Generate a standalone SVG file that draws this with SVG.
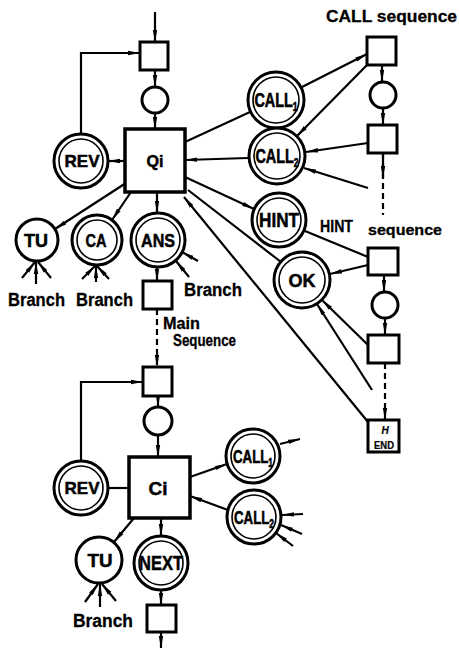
<svg xmlns="http://www.w3.org/2000/svg" width="459" height="648" viewBox="0 0 459 648">
<style>
.bg{fill:#fff}
.sq{fill:#fff;stroke:#000;stroke-width:3}
.big{fill:#fff;stroke:#000;stroke-width:3.5}
.c{fill:#fff;stroke:#000;stroke-width:3}
.ci{fill:none;stroke:#000;stroke-width:1.6}
.ln{fill:none;stroke:#000;stroke-width:2.2}
.a{marker-end:url(#ah)}
.d{stroke-dasharray:6 4}
.lbl{font-family:"Liberation Sans",Arial,sans-serif;font-weight:bold;font-size:17px;text-anchor:middle;fill:#000;stroke:#000;stroke-width:0.5}
.call{font-family:"Liberation Sans",Arial,sans-serif;font-weight:bold;font-size:20px;text-anchor:middle;fill:#000;stroke:#000;stroke-width:0.6}
.txt{font-family:"Liberation Sans",Arial,sans-serif;font-weight:bold;font-size:18px;fill:#000;stroke:#000;stroke-width:0.3}
</style>
<defs>
<marker id="ah" viewBox="0 0 12 6" refX="12" refY="3" markerWidth="12" markerHeight="6" markerUnits="userSpaceOnUse" orient="auto">
<path d="M0,0.8 L12,3 L0,5.2 Z" fill="#000"/>
</marker>
</defs>
<rect class="bg" x="0" y="0" width="459" height="648"/>

<g id="connectors">
<line class="ln a" x1="155" y1="12" x2="155" y2="42"/>
<line class="ln a" x1="155" y1="70" x2="155" y2="87"/>
<line class="ln a" x1="155" y1="113" x2="155" y2="129"/>
<path class="ln a" d="M81,134 V53 H140"/>
<line class="ln a" x1="125" y1="161" x2="108" y2="161"/>
<line class="ln a" x1="126" y1="183" x2="55" y2="229"/>
<line class="ln a" x1="131" y1="192" x2="112" y2="220"/>
<line class="ln a" x1="157" y1="192" x2="157" y2="213"/>
<line class="ln a" x1="157" y1="267" x2="157" y2="281"/>
<line class="ln a" x1="198" y1="261" x2="182" y2="252"/>
<line class="ln a" x1="189" y1="277" x2="176" y2="261"/>
<line class="ln a" x1="22" y1="278" x2="35" y2="262"/>
<line class="ln a" x1="36" y1="284" x2="36" y2="262"/>
<line class="ln a" x1="51" y1="278" x2="38" y2="262"/>
<line class="ln a" x1="82" y1="279" x2="95" y2="266"/>
<line class="ln a" x1="96" y1="282" x2="96" y2="266"/>
<line class="ln a" x1="109" y1="279" x2="97" y2="266"/>
<line class="ln d a" x1="157" y1="309" x2="157" y2="367"/>
<path class="ln a" d="M81,461 V382 H143"/>
<line class="ln a" x1="158" y1="396" x2="158" y2="407"/>
<line class="ln a" x1="158" y1="435" x2="158" y2="457"/>
<line class="ln" x1="129" y1="488" x2="108" y2="488"/>
<line class="ln a" x1="134" y1="518" x2="114" y2="542"/>
<line class="ln a" x1="161" y1="518" x2="161" y2="536"/>
<line class="ln a" x1="161" y1="590" x2="161" y2="605"/>
<line class="ln a" x1="161" y1="632" x2="161" y2="648"/>
<line class="ln a" x1="85" y1="602" x2="98" y2="584"/>
<line class="ln a" x1="100" y1="607" x2="100" y2="584"/>
<line class="ln a" x1="116" y1="601" x2="102" y2="584"/>
<line class="ln a" x1="190" y1="477" x2="227" y2="464"/>
<line class="ln a" x1="228" y1="510" x2="190" y2="496"/>
<line class="ln a" x1="280" y1="444" x2="300" y2="439"/>
<line class="ln a" x1="303" y1="514" x2="282" y2="515"/>
<line class="ln a" x1="302" y1="534" x2="281" y2="525"/>
<line class="ln a" x1="293" y1="546" x2="276" y2="533"/>
<line class="ln" x1="185" y1="142" x2="250" y2="112"/>
<line class="ln a" x1="302" y1="87" x2="367" y2="54"/>
<line class="ln a" x1="367" y1="65" x2="297" y2="136"/>
<line class="ln a" x1="382" y1="65" x2="382" y2="82"/>
<line class="ln a" x1="383" y1="108" x2="383" y2="125"/>
<line class="ln d" x1="383" y1="153" x2="383" y2="215"/>
<line class="ln a" x1="383" y1="153" x2="383" y2="178"/>
<line class="ln a" x1="368" y1="143" x2="306" y2="152"/>
<line class="ln a" x1="368" y1="188" x2="304" y2="168"/>
<line class="ln a" x1="248" y1="158" x2="185" y2="160"/>
<line class="ln a" x1="185" y1="177" x2="254" y2="209"/>
<line class="ln" x1="305" y1="231" x2="368" y2="257"/>
<line class="ln a" x1="384" y1="275" x2="384" y2="292"/>
<line class="ln a" x1="385" y1="318" x2="385" y2="335"/>
<line class="ln d a" x1="385" y1="363" x2="385" y2="420"/>
<line class="ln a" x1="368" y1="265" x2="330" y2="274"/>
<line class="ln a" x1="368" y1="345" x2="322" y2="300"/>
<line class="ln a" x1="372" y1="390" x2="317" y2="304"/>
<line class="ln" x1="188" y1="190" x2="281" y2="262"/>
<line class="ln a" x1="368" y1="422" x2="184" y2="197"/>
</g>

<g id="sqA"><rect class="sq" x="140" y="42" width="28" height="28"/></g>
<g id="cirA"><circle class="c" cx="155" cy="100" r="13"/></g>
<g id="Qi"><rect class="big" x="125" y="129" width="60" height="63"/><text class="lbl" x="155" y="167" textLength="17" lengthAdjust="spacingAndGlyphs">Qi</text></g>
<g id="REV1"><circle class="c" cx="81" cy="161" r="27"/><circle class="ci" cx="81" cy="161" r="22"/><text class="lbl" x="82" y="167" textLength="35" lengthAdjust="spacingAndGlyphs">REV</text></g>
<g id="TU1"><circle class="c" cx="37" cy="240" r="21"/><text class="lbl" x="36" y="247" style="font-size:18px" textLength="24" lengthAdjust="spacingAndGlyphs">TU</text></g>
<g id="CA"><circle class="c" cx="97" cy="240" r="25"/><circle class="ci" cx="97" cy="240" r="20"/><text class="lbl" x="96" y="247" style="font-size:18px" textLength="21" lengthAdjust="spacingAndGlyphs">CA</text></g>
<g id="ANS"><circle class="c" cx="158" cy="240" r="27"/><circle class="ci" cx="158" cy="240" r="22"/><text class="lbl" x="158" y="247" style="font-size:19px" textLength="34" lengthAdjust="spacingAndGlyphs">ANS</text></g>
<g id="sqB"><rect class="sq" x="143" y="281" width="29" height="28"/></g>
<text class="txt" x="8" y="306" textLength="57" lengthAdjust="spacingAndGlyphs">Branch</text>
<text class="txt" x="76" y="306" textLength="57" lengthAdjust="spacingAndGlyphs">Branch</text>
<text class="txt" x="184" y="296" textLength="58" lengthAdjust="spacingAndGlyphs">Branch</text>
<text class="txt" x="163" y="329" style="font-size:17px" textLength="37" lengthAdjust="spacingAndGlyphs">Main</text>
<text class="txt" x="173" y="346" style="font-size:16px" textLength="63" lengthAdjust="spacingAndGlyphs">Sequence</text>

<g id="sqC"><rect class="sq" x="143" y="367" width="29" height="29"/></g>
<g id="cirC"><circle class="c" cx="158" cy="421" r="14"/></g>
<g id="Ci"><rect class="big" x="129" y="457" width="61" height="61"/><text class="lbl" x="158" y="495" style="font-size:19px" textLength="19" lengthAdjust="spacingAndGlyphs">Ci</text></g>
<g id="REV2"><circle class="c" cx="81" cy="488" r="27"/><circle class="ci" cx="81" cy="488" r="22"/><text class="lbl" x="82" y="494" textLength="35" lengthAdjust="spacingAndGlyphs">REV</text></g>
<g id="TU2"><circle class="c" cx="99" cy="560" r="23"/><text class="lbl" x="100" y="567" style="font-size:18px" textLength="25" lengthAdjust="spacingAndGlyphs">TU</text></g>
<g id="NEXT"><circle class="c" cx="161" cy="563" r="27"/><circle class="ci" cx="161" cy="563" r="22"/><text class="lbl" x="161" y="570" style="font-size:20px" textLength="44" lengthAdjust="spacingAndGlyphs">NEXT</text></g>
<g id="sqD"><rect class="sq" x="147" y="605" width="29" height="27"/></g>
<text class="txt" x="73" y="627" textLength="60" lengthAdjust="spacingAndGlyphs">Branch</text>
<g id="CALL1b"><circle class="c" cx="253" cy="456" r="27"/><circle class="ci" cx="253" cy="456" r="22"/><text class="call" transform="translate(253,463) scale(0.7,1)" style="font-size:19px">CALL<tspan style="font-size:12px" dy="4">1</tspan></text></g>
<g id="CALL2b"><circle class="c" cx="254" cy="517" r="27"/><circle class="ci" cx="254" cy="517" r="22"/><text class="call" transform="translate(254,524) scale(0.7,1)" style="font-size:19px">CALL<tspan style="font-size:12px" dy="4">2</tspan></text></g>

<text class="txt" x="326" y="22" style="font-size:17px" textLength="131" lengthAdjust="spacingAndGlyphs">CALL sequence</text>
<g id="sqE"><rect class="sq" x="367" y="37" width="29" height="28"/></g>
<g id="cirE"><circle class="c" cx="383" cy="95" r="13"/></g>
<g id="sqF"><rect class="sq" x="368" y="125" width="29" height="28"/></g>
<g id="CALL1"><circle class="c" cx="276" cy="100" r="28"/><circle class="ci" cx="276" cy="100" r="23"/><text class="call" transform="translate(276,107) scale(0.72,1)">CALL<tspan style="font-size:12px" dy="4">1</tspan></text></g>
<g id="CALL2"><circle class="c" cx="277" cy="156" r="28"/><circle class="ci" cx="277" cy="156" r="23"/><text class="call" transform="translate(277,163) scale(0.72,1)">CALL<tspan style="font-size:12px" dy="4">2</tspan></text></g>

<g id="HINT"><circle class="c" cx="279" cy="220" r="27"/><circle class="ci" cx="279" cy="220" r="22"/><text class="lbl" x="279" y="227" style="font-size:20px" textLength="40" lengthAdjust="spacingAndGlyphs">HINT</text></g>
<text class="txt" x="320" y="232" style="font-size:17px" textLength="33" lengthAdjust="spacingAndGlyphs">HINT</text>
<text class="txt" x="368" y="235" style="font-size:15px" textLength="74" lengthAdjust="spacingAndGlyphs">sequence</text>
<g id="sqG"><rect class="sq" x="368" y="248" width="30" height="27"/></g>
<g id="cirG"><circle class="c" cx="385" cy="305" r="13"/></g>
<g id="sqH"><rect class="sq" x="368" y="335" width="31" height="28"/></g>
<g id="OK"><circle class="c" cx="302" cy="280" r="28"/><circle class="ci" cx="302" cy="280" r="23"/><text class="lbl" x="302" y="287" style="font-size:19px" textLength="27" lengthAdjust="spacingAndGlyphs">OK</text></g>
<g id="END"><rect class="sq" x="368" y="420" width="31" height="32"/><text class="lbl" x="385" y="434" style="font-size:10px;font-style:italic;stroke-width:0.2">H</text><text class="lbl" x="384" y="449" style="font-size:10px;stroke-width:0.2" textLength="20" lengthAdjust="spacingAndGlyphs">END</text></g>
</svg>
